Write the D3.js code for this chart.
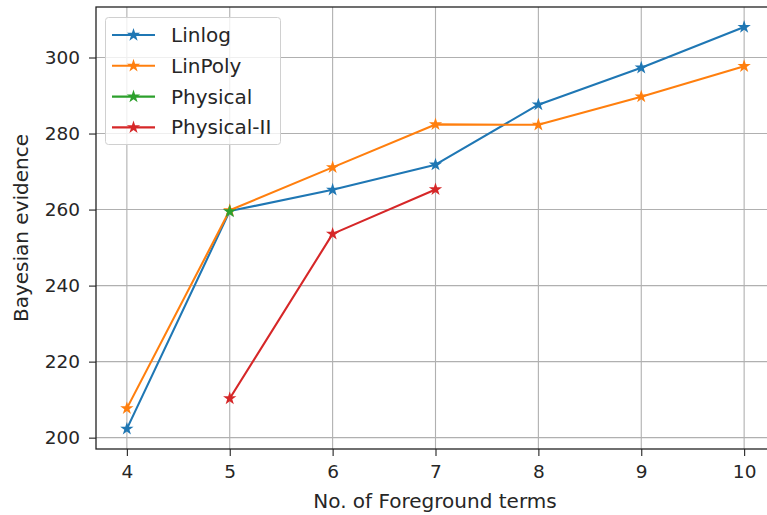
<!DOCTYPE html>
<html>
<head>
<meta charset="utf-8">
<script src="https://cdn.jsdelivr.net/npm/d3@7"></script>
<style>
  html, body { margin: 0; padding: 0; background: #fff; overflow: hidden; }
  svg { display: block; font-family: "DejaVu Sans", sans-serif; }
</style>
</head>
<body>
<svg id="chart" width="767" height="515"></svg>
<script>
// Number of foreground terms and the evidence obtained for each model
const terms = [4, 5, 6, 7, 8, 9, 10];
const linlog = [202.3, 259.6, 265.2, 271.8, 287.6, 297.3, 308.0];
const linpoly = [207.7, 259.8, 271.1, 282.4, 282.3, 289.7, 297.7];
const physical = [null, 259.5, null, null, null, null, null];
const physical2 = [null, 210.3, 253.6, 265.3, null, null, null];
const seriesNames = ["Linlog", "LinPoly", "Physical", "Physical-II"];
const seriesColors = ["#1f77b4", "#ff7f0e", "#2ca02c", "#d62728"];
const yTicks = [200, 220, 240, 260, 280, 300];
const xTicks = [4, 5, 6, 7, 8, 9, 10];

const series = [linlog, linpoly, physical, physical2].map((vals, i) => ({
  name: seriesNames[i],
  color: seriesColors[i],
  points: terms.map((t, j) => ({ x: t, y: vals[j] })).filter(p => p.y !== null)
}));

const svg = d3.select("#chart");
const plot = { left: 96, top: 7, right: 775, bottom: 449 };

// matplotlib-style 5% padding around the data range
const allY = series.flatMap(s => s.points.map(p => p.y));
const yMin = d3.min(allY), yMax = d3.max(allY), yPad = (yMax - yMin) * 0.05;
const xMin = d3.min(terms), xMax = d3.max(terms), xPad = (xMax - xMin) * 0.05;

const x = d3.scaleLinear().domain([xMin - xPad, xMax + xPad]).range([plot.left, plot.right]);
const y = d3.scaleLinear().domain([yMin - yPad, yMax + yPad]).range([plot.bottom, plot.top]);

const labelSize = 20;
const tickSize = 18.5;
const textColor = "#262626";

// grid
const grid = svg.append("g");
grid.selectAll("line.gx").data(xTicks).join("line")
  .attr("x1", d => x(d)).attr("x2", d => x(d))
  .attr("y1", plot.top).attr("y2", plot.bottom)
  .attr("stroke", "#b0b0b0").attr("stroke-width", 1.1);
grid.selectAll("line.gy").data(yTicks).join("line")
  .attr("x1", plot.left).attr("x2", plot.right)
  .attr("y1", d => y(d)).attr("y2", d => y(d))
  .attr("stroke", "#b0b0b0").attr("stroke-width", 1.1);

// axes
const xAxis = svg.append("g")
  .attr("transform", `translate(0,${plot.bottom})`)
  .call(d3.axisBottom(x).tickValues(xTicks).tickSize(7).tickPadding(9).tickFormat(d3.format("d")));
const yAxis = svg.append("g")
  .attr("transform", `translate(${plot.left},0)`)
  .call(d3.axisLeft(y).tickValues(yTicks).tickSize(7).tickPadding(9).tickFormat(d3.format("d")));
[xAxis, yAxis].forEach(a => {
  a.select(".domain").remove();
  a.selectAll(".tick line").attr("stroke", "#222").attr("stroke-width", 1.1);
  a.selectAll(".tick text").attr("fill", textColor).style("font-size", tickSize + "px")
    .style("font-family", "DejaVu Sans, sans-serif");
});

// frame
svg.append("rect")
  .attr("x", plot.left).attr("y", plot.top)
  .attr("width", plot.right - plot.left).attr("height", plot.bottom - plot.top)
  .attr("fill", "none").attr("stroke", "#222").attr("stroke-width", 1.3);

// series lines and star markers
const line = d3.line().x(d => x(d.x)).y(d => y(d.y));
const star = d3.symbol().type(d3.symbolStar).size(55);
series.forEach(s => {
  const g = svg.append("g");
  g.append("path").datum(s.points)
    .attr("d", line).attr("fill", "none")
    .attr("stroke", s.color).attr("stroke-width", 2.1).attr("stroke-linejoin", "round");
  g.selectAll("path.m").data(s.points).join("path")
    .attr("class", "m")
    .attr("transform", d => `translate(${x(d.x)},${y(d.y)})`)
    .attr("d", star).attr("fill", s.color);
});

// axis labels
svg.append("text")
  .attr("x", 435).attr("y", 508).attr("text-anchor", "middle")
  .attr("fill", textColor).style("font-size", labelSize + "px")
  .text("No. of Foreground terms");
svg.append("text")
  .attr("transform", `translate(28,${(plot.top + plot.bottom) / 2}) rotate(-90)`)
  .attr("text-anchor", "middle")
  .attr("fill", textColor).style("font-size", labelSize + "px")
  .text("Bayesian evidence");

// legend
const legend = svg.append("g");
legend.append("rect")
  .attr("x", 105.5).attr("y", 17.5).attr("width", 175).attr("height", 127).attr("rx", 3)
  .attr("fill", "#fff").attr("fill-opacity", 0.8).attr("stroke", "#d0d0d0");
series.forEach((s, i) => {
  const cy = 35 + i * 30.8;
  legend.append("line")
    .attr("x1", 112).attr("x2", 155).attr("y1", cy).attr("y2", cy)
    .attr("stroke", s.color).attr("stroke-width", 2.1);
  legend.append("path")
    .attr("transform", `translate(133.5,${cy})`)
    .attr("d", star).attr("fill", s.color);
  legend.append("text")
    .attr("x", 171).attr("y", cy).attr("dy", "0.35em")
    .attr("fill", textColor).style("font-size", labelSize + "px")
    .text(s.name);
});
</script>
</body>
</html>
